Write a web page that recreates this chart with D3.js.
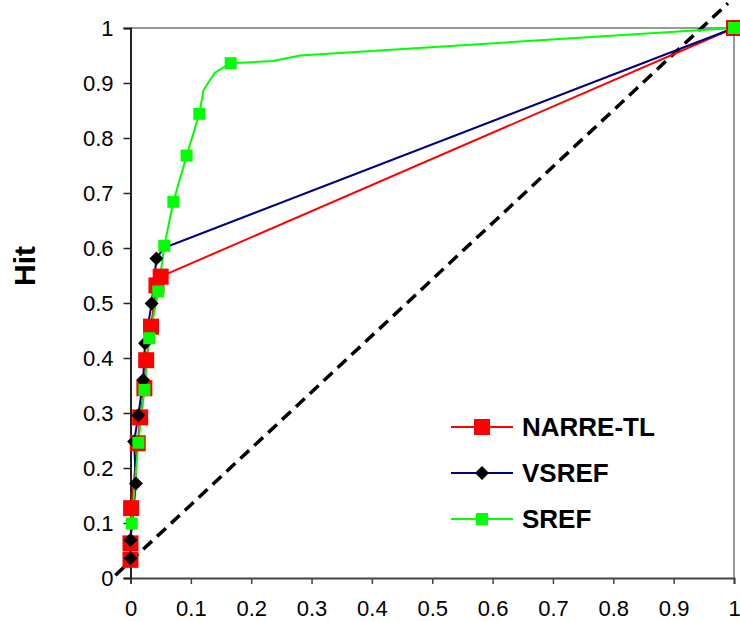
<!DOCTYPE html>
<html><head><meta charset="utf-8">
<script src="https://cdn.jsdelivr.net/npm/d3@7"></script>
<style>body{margin:0;background:#fff}svg{display:block}text{font-family:"Liberation Sans",Arial,sans-serif}</style>
</head><body><svg id="c" width="740" height="621"></svg>
<script>
const xTicks = [0,0.1,0.2,0.3,0.4,0.5,0.6,0.7,0.8,0.9,1];
const yTicks = [0,0.1,0.2,0.3,0.4,0.5,0.6,0.7,0.8,0.9,1];
const xTickLabels = ["0","0.1","0.2","0.3","0.4","0.5","0.6","0.7","0.8","0.9","1"];
const yTickLabels = ["0","0.1","0.2","0.3","0.4","0.5","0.6","0.7","0.8","0.9","1"];
const seriesNames = ["NARRE-TL","VSREF","SREF"];
const narreX = [0, 0, 0.001, 0.012, 0.016, 0.023, 0.026, 0.034, 0.043, 0.050, 1];
const narreY = [0.033, 0.063, 0.127, 0.245, 0.292, 0.345, 0.396, 0.457, 0.532, 0.548, 1];
const narreMarked = [1,1,1,1,1,1,1,1,1,1,1];
const vsrefX = [0, 0, 0.009, 0.006, 0.013, 0.021, 0.024, 0.035, 0.043, 0.055, 1];
const vsrefY = [0.036, 0.069, 0.172, 0.248, 0.296, 0.360, 0.427, 0.499, 0.581, 0.600, 1];
const vsrefMarked = [1,1,1,1,1,1,1,1,1,0,1];
const srefX = [0.002, 0.013, 0.023, 0.031, 0.046, 0.056, 0.071, 0.093, 0.114, 0.121, 0.140, 0.166, 0.236, 0.281, 1];
const srefY = [0.099, 0.246, 0.342, 0.436, 0.521, 0.604, 0.684, 0.768, 0.844, 0.887, 0.919, 0.936, 0.940, 0.950, 1];
const srefMarked = [1,1,1,1,1,1,1,1,1,0,0,1,0,0,1];
const refLineX = [-0.025, 0.99];
const refLineY = [0.005, 1.045];
const yTitle = "Hit";

const svg = d3.select("#c");
const x = d3.scaleLinear().domain([0,1]).range([130.5, 734]);
const y = d3.scaleLinear().domain([0,1]).range([578, 28]);

// plot border (top/right)
svg.append("line").attr("x1",x(0)).attr("x2",x(1)).attr("y1",y(1)).attr("y2",y(1)).attr("stroke","#999").attr("stroke-width",2);
svg.append("line").attr("x1",x(1)).attr("x2",x(1)).attr("y1",y(1)).attr("y2",y(0)).attr("stroke","#999").attr("stroke-width",2);

// axes
const xAxis = d3.axisBottom(x).tickValues(xTicks).tickFormat((d,i)=>xTickLabels[i]).tickSize(6).tickPadding(16);
const gx = svg.append("g").attr("transform",`translate(0,${y(0)})`).call(xAxis);
gx.select(".domain").attr("stroke","#444").attr("stroke-width",2);
gx.selectAll(".tick line").attr("stroke","#444").attr("stroke-width",1.5);
gx.selectAll(".tick text").attr("font-size",22).attr("fill","#000").attr("font-family","Liberation Sans, Arial, sans-serif");

const yAxis = d3.axisLeft(y).tickValues(yTicks).tickFormat((d,i)=>yTickLabels[i]).tickSize(7).tickPadding(10);
const gy = svg.append("g").attr("transform",`translate(${x(0)},0)`).call(yAxis);
gy.select(".domain").attr("stroke","#222").attr("stroke-width",2);
gy.selectAll(".tick line").attr("stroke","#222").attr("stroke-width",1.5);
gy.selectAll(".tick text").attr("font-size",22).attr("fill","#000").attr("font-family","Liberation Sans, Arial, sans-serif");

svg.append("text").attr("transform",`translate(35,266) rotate(-90)`)
  .attr("text-anchor","middle").attr("font-size",30).attr("font-weight","bold").text(yTitle);

// reference dashed line
svg.append("line").attr("x1",x(refLineX[0])).attr("y1",y(refLineY[0])).attr("x2",x(refLineX[1])).attr("y2",y(refLineY[1]))
  .attr("stroke","#000").attr("stroke-width",3.5).attr("stroke-dasharray","12,7");

const series = [
  {name:seriesNames[0], xs:narreX, ys:narreY, mk:narreMarked, color:"#ff0000", marker:"square", size:16, mfill:"#ff0000"},
  {name:seriesNames[1], xs:vsrefX, ys:vsrefY, mk:vsrefMarked, color:"#000080", marker:"diamond", size:14, mfill:"#000000"},
  {name:seriesNames[2], xs:srefX, ys:srefY, mk:srefMarked, color:"#00ff00", marker:"square", size:12, mfill:"#00ff00"}
];

const line = d3.line().x(d=>x(d[0])).y(d=>y(d[1]));

function drawMarker(g, cx, cy, s){
  if(s.marker==="square"){
    g.append("rect").attr("x",cx-s.size/2).attr("y",cy-s.size/2).attr("width",s.size).attr("height",s.size).attr("fill",s.mfill);
  } else {
    const h=s.size/2;
    g.append("path").attr("d",`M${cx},${cy-h}L${cx+h},${cy}L${cx},${cy+h}L${cx-h},${cy}Z`).attr("fill",s.mfill);
  }
}

series.forEach(s=>{
  const pts = s.xs.map((v,i)=>[v, s.ys[i]]);
  svg.append("path").datum(pts).attr("d",line).attr("fill","none").attr("stroke",s.color).attr("stroke-width",2).attr("stroke-linejoin","round");
});
series.forEach(s=>{
  const g = svg.append("g");
  s.xs.forEach((v,i)=>{ if(s.mk[i]) drawMarker(g, x(v), y(s.ys[i]), s); });
});

// legend
const legY = [427, 473, 519];
series.forEach((s,i)=>{
  const g = svg.append("g");
  g.append("line").attr("x1",451).attr("x2",513).attr("y1",legY[i]).attr("y2",legY[i]).attr("stroke",s.color).attr("stroke-width",2);
  drawMarker(g, 482, legY[i], s);
  g.append("text").attr("x",522).attr("y",legY[i]+9).attr("font-size",26).attr("font-weight","bold").text(s.name);
});
</script></body></html>
